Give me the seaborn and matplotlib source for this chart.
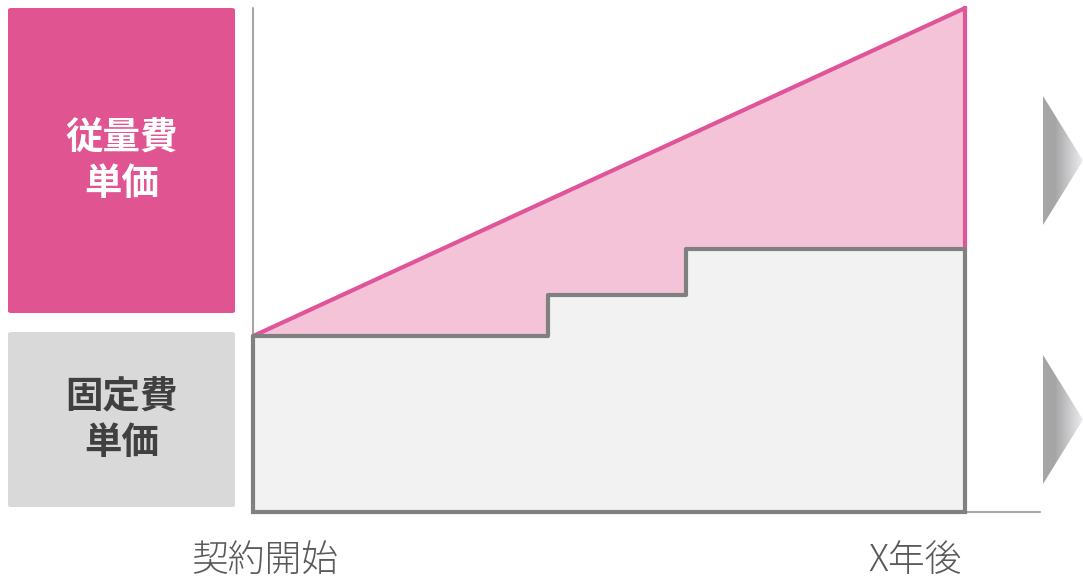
import numpy as np
import matplotlib
matplotlib.use("Agg")
import matplotlib.pyplot as plt
import seaborn as sns
from matplotlib.patches import FancyBboxPatch, Polygon

# データ（概念図なので相対値）
x_steps = [0, 4.14, 6.08, 10]          # 固定費の段差位置（契約開始=0, X年後=10）
fixed_level = [3.49, 4.31, 5.22, 5.22]  # 固定費単価
var_x = [0, 10]
var_level = [3.49, 10.0]                # 従量費を含む単価
x_max = 11.05

box_labels = ["従量費\n単価", "固定費\n単価"]
x_labels = ["契約開始", "X年後"]

pink = "#df5491"
pink_fill = "#f5c3d8"
pink_line = "#e0559a"
gray_box = "#d9d9d9"
gray_fill = "#f2f2f2"
gray_line = "#808080"
axis_col = "#a6a6a6"

sns.set_theme(style="white")
plt.rcParams['font.family'] = ['Noto Sans CJK JP', 'DejaVu Sans']

W, H = 1083, 580
fig = plt.figure(figsize=(W / 100, H / 100), dpi=100)

def fx(px):
    return px / W

def fy(py):
    return 1 - py / H

ax = fig.add_axes([fx(253), fy(512), fx(1040 - 253), (512 - 8) / H])
ax.set_xlim(0, x_max)
ax.set_ylim(0, 10)
ax.axis("off")

# 軸線
ax.plot([0, 0], [0, 10], color=axis_col, lw=1.5, clip_on=False, zorder=1)
ax.plot([0, x_max], [0, 0], color=axis_col, lw=1.5, clip_on=False, zorder=1)

# 従量費部分（三角形）→ 固定費の階段で下を覆う
ax.fill_between(var_x, var_level, 0, color=pink_fill, lw=0, zorder=2)
ax.fill_between(x_steps, fixed_level, step="post", color=gray_fill, lw=0, zorder=3)

sns.lineplot(x=var_x, y=var_level, ax=ax, color=pink_line, lw=3, zorder=5, clip_on=False)
ax.plot([10, 10], [fixed_level[-1], var_level[-1]], color=pink_line, lw=3, zorder=5,
        clip_on=False, solid_capstyle="projecting")

# 固定費の枠
ax.step(x_steps, fixed_level, where="post", color=gray_line, lw=3, zorder=6)
ax.plot([0, 0, 10, 10], [fixed_level[0], 0, 0, fixed_level[-1]], color=gray_line, lw=3,
        zorder=6, clip_on=False, solid_joinstyle="miter")

# 左の説明ボックス
boxes = [(8, 8, 235, 313, pink, "white"), (8, 332, 235, 507, gray_box, "#404040")]
for (x0, y0, x1, y1, fc, tc), lab in zip(boxes, box_labels):
    p = FancyBboxPatch((fx(x0), fy(y1)), fx(x1 - x0), (y1 - y0) / H,
                       boxstyle="round,pad=0,rounding_size=0.003", fc=fc, ec="none",
                       transform=fig.transFigure)
    fig.patches.append(p)
    fig.text(fx((x0 + x1) / 2), fy((y0 + y1) / 2), lab, ha="center", va="center",
             color=tc, fontsize=27, fontweight="bold", linespacing=1.2)

# 下のラベル
fig.text(fx(265), fy(561), x_labels[0], ha="center", va="center", color="#595959",
         fontsize=26.5, fontweight="light")
fig.text(fx(915), fy(561), x_labels[1], ha="center", va="center", color="#595959",
         fontsize=26.5, fontweight="light")

# 右の矢印（グラデーション）
grad = np.linspace(0, 1, 256)
cols = np.zeros((1, 256, 3))
c_dark = np.array([0.65, 0.65, 0.65])
c_light = np.array([0.93, 0.93, 0.95])
for i, t in enumerate(grad):
    k = 0 if t < 0.3 else (t - 0.3) / 0.7
    cols[0, i] = c_dark + (c_light - c_dark) * k
for top, bot in [(96, 225), (355, 484)]:
    aax = fig.add_axes([fx(1043), fy(bot), fx(1083 - 1043), (bot - top) / H])
    aax.axis("off")
    im = aax.imshow(cols, aspect="auto", extent=[0, 1, 0, 1])
    aax.set_xlim(0, 1)
    aax.set_ylim(0, 1)
    tri = Polygon([[0, 0], [0, 1], [1, 0.5]], closed=True, transform=aax.transData)
    im.set_clip_path(tri)

fig.savefig("out.png", dpi=100)
